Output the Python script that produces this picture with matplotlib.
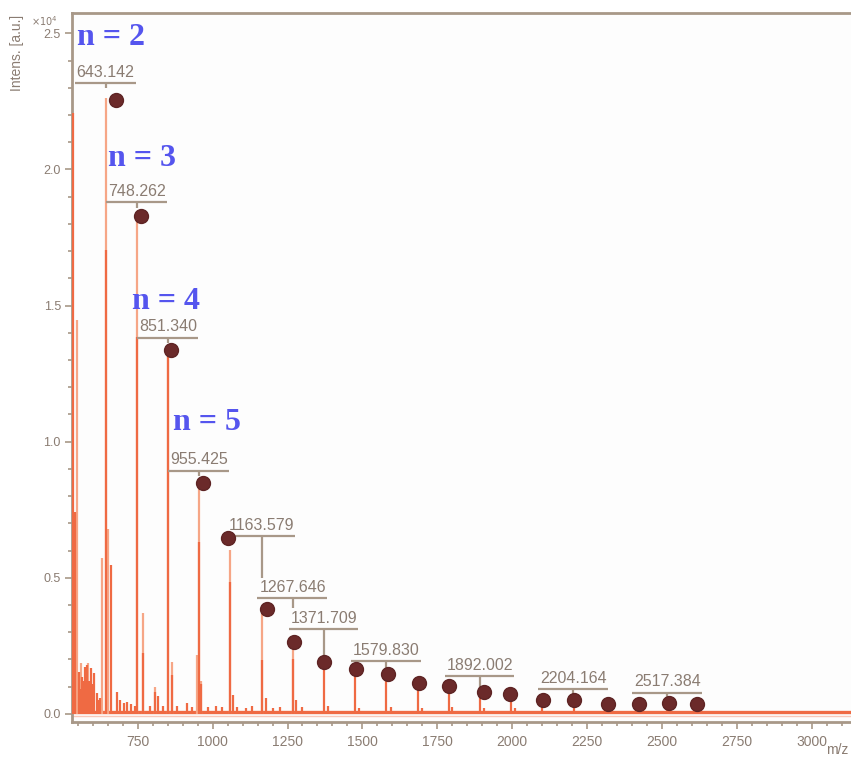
import numpy as np
import matplotlib.pyplot as plt
from matplotlib.ticker import MultipleLocator

# Main spectrum peaks (darker trace): m/z and intensity
dark_mz = [533, 542, 553, 558, 563, 568, 571, 575, 582, 588, 594, 600, 605, 614, 620,
           625, 645, 661, 680, 690, 705, 715, 728, 740, 748.3, 768, 790, 808, 817, 835,
           851.3, 865, 880, 915, 930, 955.4, 962, 985, 1010, 1030, 1059.5, 1067, 1080,
           1110, 1131, 1163.6, 1178, 1200, 1225, 1267.6, 1280, 1300, 1371.7, 1385,
           1475.8, 1490, 1579.8, 1595, 1683.9, 1700, 1788.0, 1800, 1892.0, 1905,
           1996.1, 2010, 2100.2, 2204.2, 2308.3, 2412.3, 2517.4, 2621.4]
dark_int = [22080, 7400, 1540, 900, 1360, 1200, 1000, 1730, 1800, 1200, 1690, 1100, 1500, 770, 510,
            600, 17050, 5470, 820, 500, 400, 450, 350, 300, 13850, 2240, 300, 820, 640, 300,
            13100, 1430, 300, 400, 250, 6320, 1100, 250, 300, 250, 4860, 700, 250,
            200, 300, 1980, 590, 200, 250, 2000, 500, 250, 1980, 300,
            1650, 200, 1470, 250, 1140, 200, 1030, 250, 800, 200,
            730, 200, 510, 510, 355, 355, 415, 355]

# Lighter overlaid trace
light_mz = [548, 560, 585, 631, 643.1, 651, 748.3, 768, 808, 851.3, 865, 947, 955.4, 962,
            1059.5, 1163.6, 1267.6]
light_int = [14450, 1870, 1870, 5730, 22630, 6800, 18150, 3710, 1000, 13300, 1920, 2170, 8410, 1200,
             6020, 3700, 2610]
baseline_level = 70

# Marked series (dots)
dot_mz = [677.6, 761, 861, 967.8, 1052, 1180, 1271, 1371.4, 1477, 1586, 1689, 1788,
          1905, 1992, 2103, 2205, 2320, 2422, 2522, 2616.6]
dot_int = [22560, 18300, 13370, 8490, 6455, 3860, 2656, 1920, 1640, 1470, 1130, 1040,
           790, 730, 514, 514, 360, 360, 415, 360]

# Peak labels
label_text = ['643.142', '748.262', '851.340', '955.425', '1163.579', '1267.646',
              '1371.709', '1579.830', '1892.002', '2204.164', '2517.384']
label_mz = [643.142, 748.262, 851.340, 955.425, 1163.579, 1267.646,
            1371.709, 1579.830, 1892.002, 2204.164, 2517.384]
label_bar = [23170, 18785, 13825, 8930, 6540, 4250, 3110, 1950, 1395, 907, 783]
label_end = [23000, 18590, 13630, 8745, 5000, 3895, 2170, 1690, 955, 735, 625]

# Oligomer annotations
n_text = ['n = 2', 'n = 3', 'n = 4', 'n = 5']
n_mz = [546.5, 652, 730, 868.7]
n_int = [24580, 20110, 14870, 10430]

ytick_vals = [0, 5000, 10000, 15000, 20000, 25000]
ytick_labels = ['0.0', '0.5', '1.0', '1.5', '2.0', '2.5']
xtick_vals = [750, 1000, 1250, 1500, 1750, 2000, 2250, 2500, 2750, 3000]

axis_col = '#A89888'
text_col = '#8A7C72'
dark_col = '#EF6A43'
light_col = '#F6A686'

fig = plt.figure(figsize=(8.51, 7.6), dpi=100)
ax = fig.add_axes([72 / 851, 38 / 760, 1 - 72 / 851, (722 - 13.3) / 760])
ax.set_facecolor('#FDFDFD')

ax.axhline(baseline_level, color=dark_col, lw=2.4, zorder=2)
ax.axhline(-90, color='#F9C8B8', lw=1.0, zorder=1)
ax.vlines(light_mz, 0, light_int, color=light_col, lw=1.6, zorder=2)
ax.vlines(dark_mz, 0, dark_int, color=dark_col, lw=1.6, zorder=3)
ax.plot(dot_mz, dot_int, 'o', ms=10, color='#6B2A2A', mec='#5E2424', zorder=6)

ax.set_xlim(531, 3130)
ax.set_ylim(-300, 25735)

ax.spines['right'].set_visible(False)
for s in ['left', 'top', 'bottom']:
    ax.spines[s].set_color(axis_col)
    ax.spines[s].set_linewidth(2)

ax.set_yticks(ytick_vals)
ax.set_yticklabels(ytick_labels)
ax.yaxis.set_minor_locator(MultipleLocator(1000))
ax.set_xticks(xtick_vals)
ax.xaxis.set_minor_locator(MultipleLocator(50))
ax.tick_params(axis='both', which='major', length=5, width=1.2, color=axis_col,
               labelcolor=text_col, direction='out')
ax.tick_params(axis='both', which='minor', length=3, width=1.2, color=axis_col,
               direction='out')
ax.tick_params(axis='y', labelsize=9, pad=3)
ax.tick_params(axis='x', labelsize=10, pad=4)
for t in ax.get_xticklabels() + ax.get_yticklabels():
    t.set_family('Liberation Sans')

texts = []
for txt, mz, bar in zip(label_text, label_mz, label_bar):
    t = ax.annotate(txt, (mz, bar), xytext=(0, 4.5), textcoords='offset points',
                    ha='center', va='baseline', fontsize=11.5, color=text_col,
                    family='Liberation Sans', zorder=7)
    texts.append(t)

fig.canvas.draw()
inv = ax.transData.inverted()
for t, mz, bar, end in zip(texts, label_mz, label_bar, label_end):
    bb = t.get_window_extent()
    x0 = inv.transform((bb.x0 - 2, 0))[0]
    x1 = inv.transform((bb.x1 + 1, 0))[0]
    ax.hlines(bar, x0, x1, color=axis_col, lw=1.6, zorder=5)
    ax.vlines(mz, end, bar, color=axis_col, lw=1.6, zorder=5)

for txt, mz, y in zip(n_text, n_mz, n_int):
    ax.text(mz, y, txt, fontsize=23, fontweight='bold', family='Liberation Serif',
            color='#5555EE', ha='left', va='baseline', zorder=8)

fig.text(44 / 851, 1 - 21 / 760, r'$\times10^4$', fontsize=7, color=text_col,
         ha='center', va='center')
fig.text(17 / 851, 1 - 15 / 760, 'Intens. [a.u.]', rotation=90, fontsize=10,
         color=text_col, ha='center', va='top', family='Liberation Sans')
fig.text(848 / 851, 1 - 750 / 760, 'm/z', fontsize=10, color=text_col,
         ha='right', va='center', family='Liberation Sans')

fig.savefig('out.png', dpi=100, facecolor='white')
